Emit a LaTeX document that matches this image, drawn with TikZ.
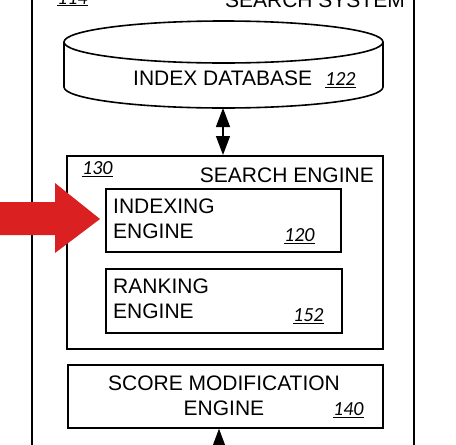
\documentclass[tikz,border=0pt]{standalone}
\usepackage{fontspec}
\setmainfont{Liberation Sans}
\newfontfamily\numfont{Carlito}
\usetikzlibrary{arrows.meta}
\definecolor{arrowred}{RGB}{218,32,32}
\tikzset{
  box/.style={draw, line width=1.6pt, fill=white},
  lbl/.style={inner sep=0pt, font=\fontsize{21}{25}\selectfont},
  ref/.style={inner sep=0pt, font=\fontsize{20}{24}\selectfont\numfont\itshape},
  conn/.style={line width=1.4pt, -{Triangle[length=18pt,width=13pt]}},
}
\newcommand{\refnum}[1]{\underline{#1}}
\begin{document}
\begin{tikzpicture}[x=1pt,y=-1pt]
\useasboundingbox (0,0) rectangle (456,445);
% outer search system box
\draw[line width=1.6pt] (32,-30) -- (32,470) (414,-30) -- (414,470);
\node[lbl, anchor=base east] (sstitle) at (405,7) {SEARCH SYSTEM};
\node[ref, anchor=base west] (n114) at (57,4) {\refnum{114}};
% database cylinder
\draw[line width=1.6pt, fill=white] (64,42) -- (64,87) arc[start angle=180,end angle=360,x radius=159.5pt,y radius=21pt] -- (383,42);
\draw[line width=1.6pt] (223.5,42) ellipse[x radius=159.5pt, y radius=21pt];
\node[lbl, anchor=west] (db) at (133,78) {INDEX DATABASE};
\node[ref, anchor=west] (n122) at (325,80) {\refnum{122}};
\coordinate (dbbot) at (223,108);
% search engine
\node[box, minimum width=316pt, minimum height=193pt, anchor=north west] (se) at (66,155) {};
\node[lbl, anchor=base east] (setitle) at (374,182) {SEARCH ENGINE};
\node[ref, anchor=west] (n130) at (82,169) {\refnum{130}};
% indexing engine
\node[box, minimum width=235pt, minimum height=63pt, anchor=north west] (ie) at (105,188) {};
\node[lbl, anchor=west, align=left] (ietext) at (113,218.5) {INDEXING\\[0pt]ENGINE};
\node[ref, anchor=west] (n120) at (284,236) {\refnum{120}};
% ranking engine
\node[box, minimum width=236pt, minimum height=64pt, anchor=north west] (re) at (105,268) {};
\node[lbl, anchor=west, align=left] (retext) at (113,299) {RANKING\\[0pt]ENGINE};
\node[ref, anchor=west] (n152) at (293,316) {\refnum{152}};
% score modification engine
\node[box, minimum width=315pt, minimum height=63pt, anchor=north west] (sm) at (67,364) {};
\node[lbl, align=center] (smtext) at (224,395.5) {SCORE MODIFICATION\\[0pt]ENGINE};
\node[ref, anchor=west] (n140) at (333,410) {\refnum{140}};
% connectors
\draw[line width=1.4pt, {Triangle[length=19pt,width=14pt]}-{Triangle[length=19pt,width=14pt]}] (dbbot) -- (se.north -| dbbot);
\coordinate (below) at (219,470);
\draw[conn] (below) -- (sm.south -| below);
% red arrow
\fill[arrowred] (-5,202) -- (55,202) -- (55,183) -- (100,219) -- (55,253) -- (55,235) -- (-5,235) -- cycle;
\end{tikzpicture}
\end{document}
